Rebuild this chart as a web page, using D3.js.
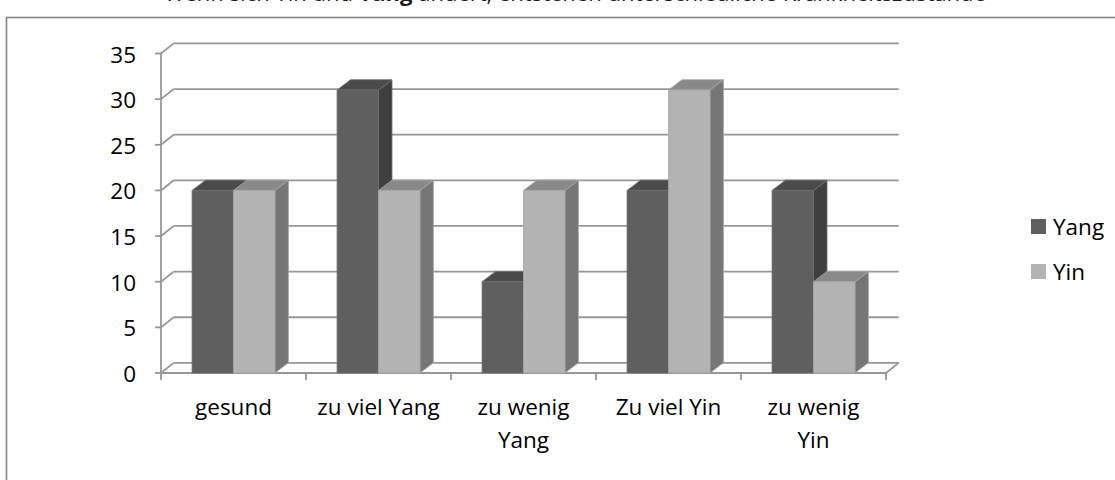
<!DOCTYPE html>
<html>
<head>
<meta charset="utf-8">
<script src="https://cdn.jsdelivr.net/npm/d3@7"></script>
<style>
  html, body { margin: 0; padding: 0; background: #fff; }
  svg { display: block; }
  text { font-family: "Open Sans", sans-serif; fill: #000; }
</style>
</head>
<body>
<svg id="chart" width="1115" height="480"></svg>
<script>
// Categories (line breaks mark wrapped labels)
const categories = ["gesund", "zu viel Yang", "zu wenig\nYang", "Zu viel Yin", "zu wenig\nYin"];
const seriesNames = ["Yang", "Yin"];
const yangValues = [20, 31, 10, 20, 20];
const yinValues = [20, 20, 20, 31, 10];
const yTicks = [0, 5, 10, 15, 20, 25, 30, 35];
const headingParts = [
  { text: "Wenn sich Yin und ", bold: false },
  { text: "Yang", bold: true },
  { text: " ändert, entstehen unterschiedliche Krankheitszustände", bold: false }
];

const svg = d3.select("#chart");

// Front plane of the plot and the 3D depth offsets
const plot = { left: 161, right: 886, bottom: 373, top: 53.5 };
const wallDepth = { dx: 12.7, dy: -10.1 };
const barDepth = { dx: 13.5, dy: -10.3 };

const y = d3.scaleLinear().domain([0, 35]).range([plot.bottom, plot.top]);
const x = d3.scaleBand().domain(categories).range([plot.left, plot.right]).padding(0);
const xs = d3.scaleBand().domain(seriesNames).range([0, x.bandwidth()])
  .paddingInner(0).paddingOuter(0.75);

const palette = {
  Yang: { front: "#5f5f5f", top: "#4a4a4a", side: "#3f3f3f", edge: "#6e6e6e" },
  Yin:  { front: "#b3b3b3", top: "#898989", side: "#767676", edge: "#a6a6a6" }
};
const gridColor = "#979797";

// Heading line from the surrounding document, running off the top edge
svg.append("text")
  .attr("x", 575).attr("y", 1.2)
  .attr("text-anchor", "middle")
  .style("font-size", "22px")
  .style("fill", "#1a1a1a")
  .selectAll("tspan").data(headingParts).join("tspan")
  .style("font-weight", d => d.bold ? "bold" : "normal")
  .text(d => d.text);

// Chart frame
svg.append("rect")
  .attr("x", 6.5).attr("y", 17.5)
  .attr("width", 1200).attr("height", 600)
  .attr("fill", "none").attr("stroke", "#868686").attr("stroke-width", 1.6);

const grid = svg.append("g")
  .attr("fill", "none").attr("stroke", gridColor).attr("stroke-width", 1.8);

// Back wall gridlines
grid.selectAll("line.back").data(yTicks).join("line")
  .attr("class", "back")
  .attr("x1", plot.left + wallDepth.dx).attr("x2", plot.right + wallDepth.dx)
  .attr("y1", d => y(d) + wallDepth.dy).attr("y2", d => y(d) + wallDepth.dy);

// Side wall gridlines
grid.selectAll("line.side").data(yTicks).join("line")
  .attr("class", "side")
  .attr("x1", plot.left).attr("x2", plot.left + wallDepth.dx)
  .attr("y1", d => y(d)).attr("y2", d => y(d) + wallDepth.dy);

// Floor: front edge and right edge
grid.append("line")
  .attr("x1", plot.left).attr("x2", plot.right)
  .attr("y1", y(0)).attr("y2", y(0));
grid.append("line")
  .attr("x1", plot.right).attr("x2", plot.right + wallDepth.dx)
  .attr("y1", y(0)).attr("y2", y(0) + wallDepth.dy);

// Value axis line and ticks
grid.append("line")
  .attr("x1", plot.left).attr("x2", plot.left)
  .attr("y1", y(0)).attr("y2", y(35));
grid.selectAll("line.ytick").data(yTicks).join("line")
  .attr("class", "ytick")
  .attr("x1", plot.left - 6).attr("x2", plot.left)
  .attr("y1", d => y(d)).attr("y2", d => y(d));

// Category ticks
const catEdges = categories.map(c => x(c)).concat([plot.right]);
grid.selectAll("line.xtick").data(catEdges).join("line")
  .attr("class", "xtick")
  .attr("x1", d => d).attr("x2", d => d)
  .attr("y1", y(0)).attr("y2", y(0) + 7);

// Value axis labels
svg.append("g").selectAll("text").data(yTicks).join("text")
  .attr("x", 136).attr("y", d => y(d) + 9)
  .attr("text-anchor", "end")
  .style("font-size", "22.5px")
  .text(d => d);

// Bars, drawn Yang then Yin so the nearer faces overlap correctly
const bars = [];
categories.forEach((c, i) => {
  bars.push({ cat: c, series: "Yang", value: yangValues[i] });
  bars.push({ cat: c, series: "Yin", value: yinValues[i] });
});

const barG = svg.append("g");
bars.forEach(b => {
  const x0 = x(b.cat) + xs(b.series);
  const w = xs.bandwidth();
  const yT = y(b.value), yB = y(0);
  const col = palette[b.series];
  const g = barG.append("g").attr("stroke", col.edge).attr("stroke-width", 0.8)
    .attr("stroke-linejoin", "round");
  // right side face
  g.append("polygon")
    .attr("points", [
      [x0 + w, yB], [x0 + w + barDepth.dx, yB + barDepth.dy],
      [x0 + w + barDepth.dx, yT + barDepth.dy], [x0 + w, yT]
    ].map(p => p.join(",")).join(" "))
    .attr("fill", col.side);
  // top face
  g.append("polygon")
    .attr("points", [
      [x0, yT], [x0 + w, yT],
      [x0 + w + barDepth.dx, yT + barDepth.dy], [x0 + barDepth.dx, yT + barDepth.dy]
    ].map(p => p.join(",")).join(" "))
    .attr("fill", col.top);
  // front face
  g.append("rect")
    .attr("x", x0).attr("y", yT)
    .attr("width", w).attr("height", yB - yT)
    .attr("fill", col.front);
});

// Category labels
const lineGap = 33.3;
svg.append("g").selectAll("text").data(categories).join("text")
  .attr("x", d => x(d) + x.bandwidth() / 2)
  .attr("y", 415)
  .attr("text-anchor", "middle")
  .style("font-size", "22.5px")
  .each(function (d) {
    d.split("\n").forEach((line, k) => {
      d3.select(this).append("tspan")
        .attr("x", x(d) + x.bandwidth() / 2)
        .attr("dy", k === 0 ? 0 : lineGap)
        .text(line);
    });
  });

// Legend
const legend = svg.append("g").selectAll("g").data(seriesNames).join("g")
  .attr("transform", (d, i) => `translate(1031, ${219 + i * 45})`);
legend.append("rect")
  .attr("width", 15).attr("height", 15)
  .attr("fill", d => palette[d].front);
legend.append("text")
  .attr("x", 22).attr("y", 16)
  .style("font-size", "22.5px")
  .text(d => d);
</script>
</body>
</html>
